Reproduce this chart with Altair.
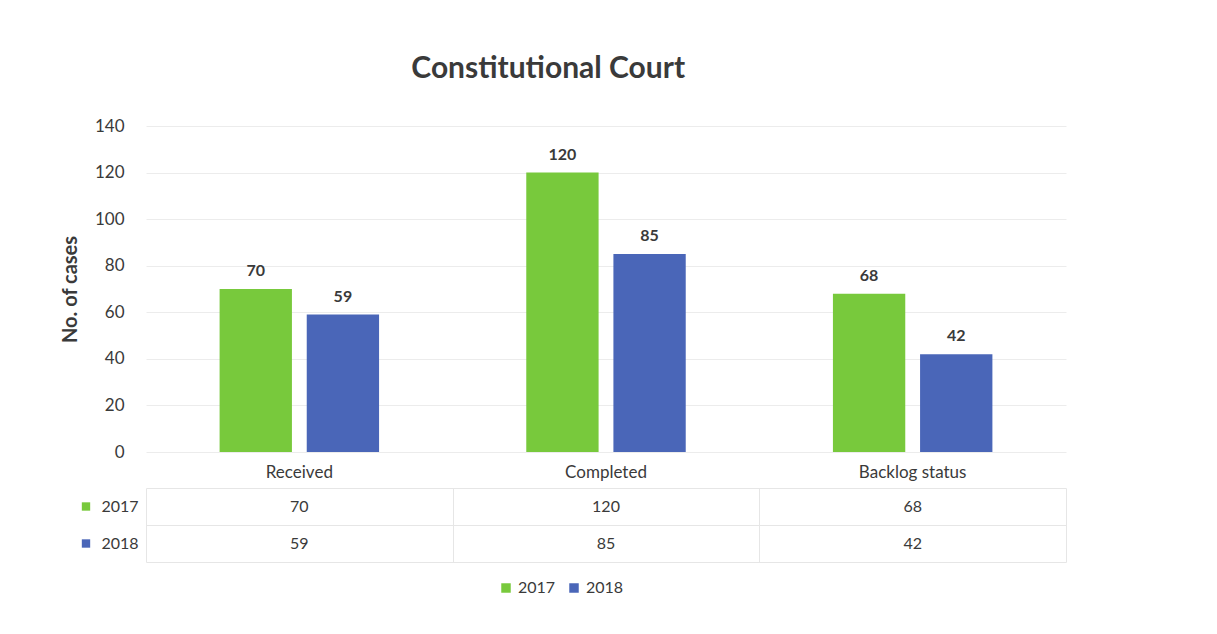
import altair as alt
import pandas as pd

categories = ["Received", "Completed", "Backlog status"]
years = ["2017", "2018"]
values_2017 = [70, 120, 68]
values_2018 = [59, 85, 42]
colors = ["#78C93C", "#4A66B8"]

rows = []
for i, c in enumerate(categories):
    rows.append({"category": c, "year": "2017", "value": values_2017[i]})
    rows.append({"category": c, "year": "2018", "value": values_2018[i]})
df = pd.DataFrame(rows)

FONT = "Lato"
TXT = "#3a3a3a"

legend = alt.Legend(title=None, orient="none", direction="horizontal",
                    legendX=352, legendY=454,
                    symbolType="square", symbolSize=90,
                    labelFontSize=16, labelFont=FONT, labelColor=TXT,
                    columnPadding=10)
color_enc = alt.Color("year:N", sort=years,
                      scale=alt.Scale(domain=years, range=colors), legend=legend)

x_top = alt.X("category:N", sort=categories, title=None,
              scale=alt.Scale(paddingInner=0.48, paddingOuter=0.24),
              axis=alt.Axis(domain=False, ticks=False, labelAngle=0, labelPadding=12,
                            labelFontSize=17, labelColor=TXT, labelFont=FONT))
y_top = alt.Y("value:Q", title="No. of cases",
              scale=alt.Scale(domain=[0, 140]),
              axis=alt.Axis(values=list(range(0, 141, 20)), domain=False, ticks=False,
                            labelPadding=22, labelFontSize=17, labelColor=TXT, labelFont=FONT,
                            titleFontSize=20, titleFont=FONT, titleColor=TXT,
                            titleFontWeight="bold", titlePadding=14,
                            gridColor="#ececec"))
xoff = alt.XOffset("year:N", sort=years, scale=alt.Scale(paddingInner=0.17))

bars = alt.Chart(df).mark_bar().encode(x=x_top, y=y_top, xOffset=xoff, color=color_enc)
labels = alt.Chart(df).mark_text(dy=-18, fontSize=16, fontWeight="bold", font=FONT,
                                 color=TXT).encode(
    x=alt.X("category:N", sort=categories), y="value:Q", xOffset=xoff, text="value:Q")

top = alt.layer(bars, labels).properties(width=920, height=326)

# data table below the chart
x_tab = alt.X("category:N", sort=categories, title=None,
              scale=alt.Scale(paddingInner=0, paddingOuter=0),
              axis=alt.Axis(orient="top", labels=False, ticks=False, domain=False,
                            grid=True, tickBand="extent", gridColor="#e6e6e6"))
y_tab = alt.Y("year:N", sort=years, title=None,
              axis=alt.Axis(domain=False, ticks=False, grid=True, tickBand="extent",
                            gridColor="#e6e6e6", labelPadding=8, labelFontSize=16,
                            labelColor=TXT, labelFont=FONT))
cells = alt.Chart(df).mark_text(fontSize=16, font=FONT, color=TXT).encode(
    x=x_tab, y=y_tab, text="value:Q")

year_df = pd.DataFrame({"year": years})
squares = alt.Chart(year_df).mark_point(shape="square", filled=True, size=70,
                                        opacity=1).encode(
    x=alt.value(-60),
    y=alt.Y("year:N", sort=years),
    color=color_enc)
table = alt.layer(cells, squares).properties(width=920, height=74)

chart = alt.vconcat(top, table, spacing=0).properties(
    title=alt.TitleParams("Constitutional Court", fontSize=30, font=FONT,
                          fontWeight="bold", color=TXT, offset=33, anchor="middle", dx=-15),
    padding={"left": 52, "top": 46, "right": 10, "bottom": 10},
).configure_view(stroke=None)

chart.save("out.html", embed_options={"renderer": "svg", "actions": False})
